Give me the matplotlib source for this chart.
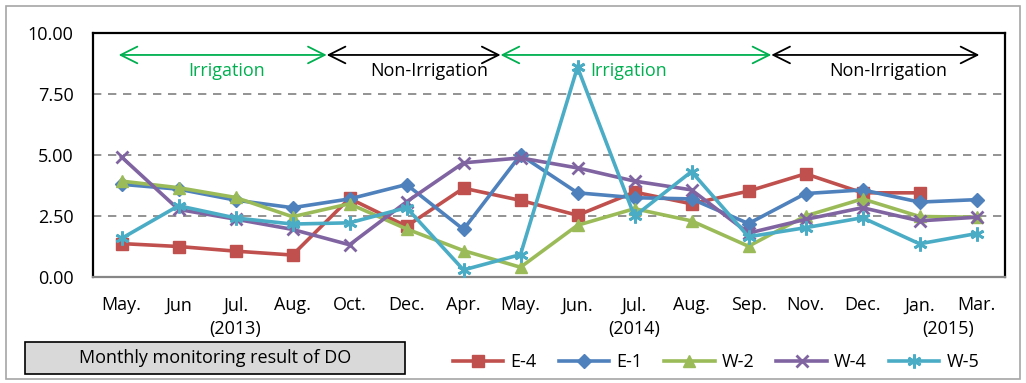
import matplotlib
matplotlib.use("Agg")
import matplotlib.pyplot as plt
from matplotlib.patches import Rectangle
import numpy as np

plt.rcParams["font.family"] = ["Open Sans", "DejaVu Sans"]

months = ["May.", "Jun", "Jul.", "Aug.", "Oct.", "Dec.", "Apr.", "May.",
          "Jun.", "Jul.", "Aug.", "Sep.", "Nov.", "Dec.", "Jan.", "Mar."]

e4 = [1.37, 1.25, 1.06, 0.90, 3.22, 2.08, 3.64, 3.14, 2.53, 3.48, 3.0, 3.52, 4.23, 3.45, 3.45, np.nan]
e1 = [3.80, 3.60, 3.15, 2.84, 3.20, 3.79, 1.95, 5.00, 3.45, 3.25, 3.20, 2.19, 3.42, 3.57, 3.07, 3.17]
w2 = [3.93, 3.66, 3.26, 2.47, 3.00, 1.97, 1.08, 0.40, 2.12, 2.80, 2.30, 1.26, 2.50, 3.20, 2.48, 2.45]
w4 = [4.92, 2.77, 2.37, 1.95, 1.32, 3.08, 4.68, 4.88, 4.47, 3.93, 3.57, 1.80, 2.36, 2.84, 2.30, 2.45]
w5 = [1.58, 2.92, 2.42, 2.17, 2.22, 2.84, 0.29, 0.92, 8.60, 2.49, 4.32, 1.65, 2.02, 2.43, 1.36, 1.78]

series = [
    ("E-4", e4, "#C0504D", "s", 9),
    ("E-1", e1, "#4F81BD", "D", 7.5),
    ("W-2", w2, "#9BBB59", "^", 9),
    ("W-4", w4, "#8064A2", "x", 9),
    ("W-5", w5, "#4BACC6", (6, 2, 0), 10),
]

# period bands shown along the top: (start, end) in category units
periods = [(-0.05, 3.6, "Irrigation", "#00B050", 1.85),
           (3.6, 6.65, "Non-Irrigation", "black", 5.4),
           (6.65, 11.4, "Irrigation", "#00B050", 8.9),
           (11.4, 15.05, "Non-Irrigation", "black", 13.45)]

FS = 13

fig = plt.figure(figsize=(10.26, 3.83), dpi=100)
fig.patches.append(Rectangle((6 / 1026, 4 / 383), 1014 / 1026, 373 / 383,
                             transform=fig.transFigure, fill=False,
                             edgecolor="#A6A6A6", linewidth=1.2))

ax = fig.add_axes([93 / 1026, 106 / 383, 912 / 1026, 244 / 383])
x = np.arange(len(months))

for name, vals, color, marker, ms in series:
    mew = 2 if marker in ("x", (6, 2, 0)) else 1
    ax.plot(x, vals, color=color, linewidth=2.6, marker=marker, markersize=ms,
            markeredgewidth=mew, markerfacecolor=color, markeredgecolor=color,
            label=name, zorder=3)

ax.set_xlim(-0.5, len(months) - 0.5)
ax.set_ylim(0, 10)
ax.set_yticks([0, 2.5, 5, 7.5, 10])
ax.set_yticklabels(["0.00", "2.50", "5.00", "7.50", "10.00"])
ax.set_xticks(x)
ax.set_xticklabels(months)
ax.tick_params(axis="both", length=0, labelsize=FS)
ax.tick_params(axis="y", pad=14)
ax.tick_params(axis="x", pad=14)
for y in [2.5, 5, 7.5]:
    ax.axhline(y, color="#808080", linestyle=(0, (5, 4)), linewidth=1.2, zorder=1)

for side in ["left", "right", "top"]:
    ax.spines[side].set_color("black")
    ax.spines[side].set_linewidth(1.6)
ax.spines["bottom"].set_color("#868686")
ax.spines["bottom"].set_linewidth(1.6)

for x0, x1, label, color, tx in periods:
    ax.annotate("", xy=(x0, 9.1), xytext=(x1, 9.1),
                arrowprops=dict(arrowstyle="<->,head_length=1.2,head_width=0.6",
                                color=color, linewidth=1.3, shrinkA=0, shrinkB=0))
    ax.text(tx, 8.45, label, color=color, fontsize=FS, ha="center", va="center")

trans = ax.get_xaxis_transform()
for xpos, year in [(2, "(2013)"), (9, "(2014)"), (14.5, "(2015)")]:
    ax.text(xpos, -0.215, year, transform=trans, ha="center", va="center", fontsize=FS)

fig.patches.append(Rectangle((25 / 1026, 9 / 383), 380 / 1026, 32 / 383,
                             transform=fig.transFigure, facecolor="#D9D9D9",
                             edgecolor="black", linewidth=1.2))
fig.text(215 / 1026, 25 / 383, "Monthly monitoring result of DO",
         ha="center", va="center", fontsize=FS)

handles, labels = ax.get_legend_handles_labels()
fig.legend(handles, labels, ncol=5, loc="center", bbox_to_anchor=(716 / 1026, 21 / 383),
           frameon=False, fontsize=FS, handlelength=2.8, columnspacing=1.2,
           handletextpad=0.4)

fig.savefig("out.png", dpi=100)
